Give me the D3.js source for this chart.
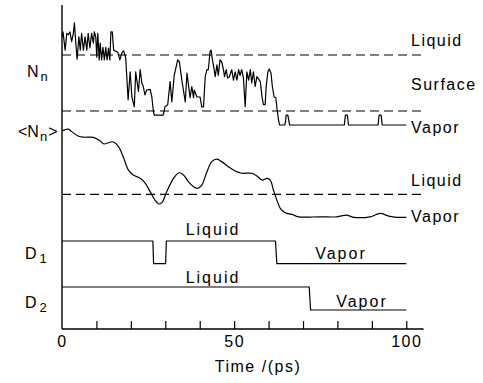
<!DOCTYPE html>
<html>
<head>
<meta charset="utf-8">
<script src="https://cdn.jsdelivr.net/npm/d3@7"></script>
<style>
  html, body { margin: 0; padding: 0; background: #fff; }
  svg { display: block; }
  text { font-family: Arial, "Liberation Sans", sans-serif; fill: #000; }
</style>
</head>
<body>
<svg id="chart" width="483" height="383"></svg>
<script>
// Instantaneous neighbour count N_n along the trajectory (time in ps)
const nnTime = [0, 0.3, 0.9, 1.4, 1.8, 2.3, 2.8, 3.3, 3.6, 4.1, 4.4, 4.9, 5.3, 5.7, 6.2, 6.7, 7.2, 7.6, 8.1, 8.6,
  9.1, 9.4, 9.8, 10.1, 10.4, 10.8, 11.1, 11.5, 11.9, 12.3, 12.7, 13.1, 13.5, 13.9, 14.2, 14.6, 15.0, 16.2, 16.8, 17.4,
  17.9, 18.5, 19.2, 19.8, 20.3, 21.0, 21.4, 22.2, 22.7, 23.2, 23.6, 24.1, 24.6, 25.6, 26.1, 26.5, 26.8, 29.4, 29.9, 30.7,
  31.4, 31.9, 32.6, 33.6, 34.1, 34.8, 35.8, 36.3, 37.2, 37.7, 38.2, 38.4, 39.2, 40.1, 40.6, 41.1, 41.6, 42.1, 42.5, 43.0,
  43.3, 43.7, 44.2, 44.5, 45.0, 45.4, 45.9, 46.4, 46.9, 47.2, 47.7, 48.1, 48.6, 49.3, 49.8, 50.3, 50.8, 51.3, 51.7, 52.2,
  52.7, 53.2, 53.7, 54.2, 54.7, 55.1, 55.6, 56.1, 56.6, 57.6, 58.1, 58.5, 59.0, 59.3, 59.8, 60.2, 60.7, 61.1, 61.6, 62.1,
  62.5, 62.9, 63.2, 64.7, 64.9, 65.1, 65.6, 65.9, 66.1, 82.0, 82.3, 82.9, 83.2, 91.8, 92.1, 92.7, 93.0, 100];
const nnValue = [12.6, 13.3, 10.7, 13.1, 12.9, 13.3, 11.9, 13.1, 14.6, 11.1, 9.4, 12.6, 10.7, 13.1, 10.7, 12.6, 10.7, 13.1, 11.0, 13.1,
  11.7, 13.3, 12.6, 9.7, 13.1, 9.3, 11.7, 9.3, 11.1, 9.3, 11.1, 9.3, 11.0, 9.3, 13.3, 13.3, 10.7, 10.4, 9.3, 10.3,
  10.6, 9.6, 3.6, 7.6, 4.0, 2.6, 7.6, 4.8, 7.9, 6.0, 5.5, 4.3, 5.0, 5.1, 4.0, 2.1, 1.4, 1.4, 2.6, 2.9,
  6.2, 3.3, 7.1, 9.3, 9.0, 6.4, 3.3, 7.4, 3.9, 5.5, 3.9, 5.0, 4.0, 4.0, 2.6, 2.6, 6.9, 7.9, 7.9, 10.5,
  10.7, 9.3, 7.9, 6.9, 8.6, 7.1, 9.3, 9.0, 7.9, 6.9, 7.9, 6.7, 6.9, 7.9, 6.4, 7.6, 6.4, 7.9, 7.1, 7.9,
  6.7, 2.6, 7.6, 6.4, 7.9, 6.0, 7.6, 5.5, 6.9, 6.2, 4.0, 2.9, 2.9, 5.5, 7.6, 8.0, 7.4, 5.5, 4.0, 3.9,
  2.1, 0.7, 0, 0, 0.4, 1.4, 1.4, 0.6, 0, 0, 1.4, 1.4, 0, 0, 1.4, 1.4, 0, 0];

// Running average <N_n>
const avgTime = [0, 1.8, 2.8, 4.7, 6.2, 9.1, 11.0, 12.2, 13.5, 14.7, 16.4, 17.8, 19.3, 20.7, 22.7, 24.1, 25.6, 27.0, 28.2, 29.2,
  30.4, 32.4, 34.0, 35.3, 36.7, 38.2, 39.4, 40.6, 42.1, 43.5, 45.0, 46.4, 48.3, 50.3, 52.2, 55.1, 56.6, 58.1, 59.5, 60.5,
  61.4, 62.4, 63.4, 64.8, 66.8, 68.7, 75.0, 79.9, 82.6, 84.7, 89.5, 92.4, 94.9, 97.3, 100];
const avgValue = [36.2, 36.9, 35.9, 34.1, 33.6, 33.5, 32.1, 30.8, 31.3, 31.7, 29.7, 25.4, 20.0, 18.0, 16.6, 14.7, 11.1, 7.6, 6.0, 6.9,
  11.1, 16.6, 18.9, 18.0, 15.2, 13.1, 12.5, 13.8, 19.3, 23.5, 24.5, 23.5, 21.4, 19.6, 18.7, 18.7, 17.6, 15.9, 16.6, 15.9,
  11.8, 7.6, 4.2, 2.4, 1.7, 0.7, 0.7, 0.7, 1.4, 0.5, 0.7, 2.1, 1.0, 0.5, 0.5];

// Phase indicators D1 and D2 (1 = liquid, 0 = vapor)
const d1Time = [0, 26.4, 26.6, 30.1, 30.3, 62.0, 62.4, 100];
const d1State = [1, 1, 0, 0, 1, 1, 0, 0];
const d2Time = [0, 71.8, 72.2, 100];
const d2State = [1, 1, 0, 0];

// Thresholds drawn as dashed lines
const nnThresholds = [10, 2];   // liquid, surface
const avgThresholds = [10];     // liquid

const majorTicks = [0, 50, 100];
const minorTicks = [10, 20, 30, 40, 50, 60, 70, 80, 90, 100];
const axisTitle = "Time /(ps)";

const svg = d3.select("#chart");

const x = d3.scaleLinear().domain([0, 100]).range([62, 406.3]);
const yNn = d3.scaleLinear().domain([0, 10]).range([125, 55]);
const yAvg = d3.scaleLinear().domain([0, 10]).range([218.5, 194.3]);
const yD1 = d3.scaleLinear().domain([0, 1]).range([263.7, 241]);
const yD2 = d3.scaleLinear().domain([0, 1]).range([310, 287]);

const axisY = 329;
const lineEnd = 104.5;

function trace(times, values, y, curve) {
  const pts = times.map((t, i) => [t, values[i]]);
  const gen = d3.line().x(d => x(d[0])).y(d => y(d[1]));
  if (curve) gen.curve(curve);
  svg.append("path")
    .datum(pts)
    .attr("d", gen)
    .attr("fill", "none")
    .attr("stroke", "#000")
    .attr("stroke-width", 1.2)
    .attr("stroke-linejoin", "round");
}

// dashed threshold lines
function dashed(value, y) {
  svg.append("line")
    .attr("x1", x(0)).attr("x2", x(lineEnd))
    .attr("y1", y(value)).attr("y2", y(value))
    .attr("stroke", "#000")
    .attr("stroke-width", 1.2)
    .attr("stroke-dasharray", "9,5");
}
nnThresholds.forEach(v => dashed(v, yNn));
avgThresholds.forEach(v => dashed(v, yAvg));

trace(nnTime, nnValue, yNn);
trace(avgTime, avgValue, yAvg, d3.curveCatmullRom.alpha(0.5));
trace(d1Time, d1State, yD1);
trace(d2Time, d2State, yD2);

// axes
svg.append("line")
  .attr("x1", x(0)).attr("x2", x(0))
  .attr("y1", 5).attr("y2", axisY)
  .attr("stroke", "#000").attr("stroke-width", 1.4);

const minorAxis = d3.axisBottom(x).tickValues(minorTicks).tickSizeInner(-8).tickSizeOuter(0).tickFormat("");
const gMinor = svg.append("g").attr("transform", `translate(0,${axisY})`).call(minorAxis);
gMinor.select(".domain").remove();
gMinor.selectAll(".tick line").attr("stroke-width", 1.2);

const majorAxis = d3.axisBottom(x).tickValues(majorTicks).tickSize(0).tickPadding(7).tickFormat(d3.format("d"));
const gMajor = svg.append("g").attr("transform", `translate(0,${axisY})`).call(majorAxis);
gMajor.select(".domain").remove();
gMajor.selectAll(".tick text")
  .attr("font-size", 16)
  .attr("letter-spacing", "1.5px")
  .attr("font-family", "Arial, 'Liberation Sans', sans-serif");

svg.append("line")
  .attr("x1", x(0)).attr("x2", x(105))
  .attr("y1", axisY).attr("y2", axisY)
  .attr("stroke", "#000").attr("stroke-width", 1.4);

svg.append("text")
  .attr("x", 258).attr("y", 372)
  .attr("text-anchor", "middle")
  .attr("font-size", 16)
  .attr("letter-spacing", "1.5px")
  .text(axisTitle);

// right-hand state labels
const rightLabels = [
  { text: "Liquid", y: 46 },
  { text: "Surface", y: 90 },
  { text: "Vapor", y: 133 },
  { text: "Liquid", y: 185.5 },
  { text: "Vapor", y: 221.5 }
];
svg.selectAll("text.rlab").data(rightLabels).enter().append("text")
  .attr("class", "rlab")
  .attr("x", 411).attr("y", d => d.y)
  .attr("font-size", 16)
  .attr("letter-spacing", "1.5px")
  .text(d => d.text);

// labels above the indicator traces
const stepLabels = [
  { text: "Liquid", cx: 213, y: 235 },
  { text: "Vapor", cx: 341, y: 259 },
  { text: "Liquid", cx: 213, y: 282.5 },
  { text: "Vapor", cx: 362, y: 307 }
];
svg.selectAll("text.slab").data(stepLabels).enter().append("text")
  .attr("class", "slab")
  .attr("x", d => d.cx).attr("y", d => d.y)
  .attr("text-anchor", "middle")
  .attr("font-size", 16)
  .attr("letter-spacing", "2px")
  .text(d => d.text);

// left-hand series names with subscripts
function subLabel(xp, yp, parts) {
  const t = svg.append("text").attr("x", xp).attr("y", yp).attr("font-size", 16);
  parts.forEach(p => {
    const s = t.append("tspan").text(p.text);
    if (p.size) s.attr("font-size", p.size);
    if (p.dy) s.attr("dy", p.dy);
    if (p.dx) s.attr("dx", p.dx);
  });
}
subLabel(27, 77, [{ text: "N" }, { text: "n", size: 13, dy: 4, dx: 2 }]);
subLabel(18, 137, [{ text: "<N" }, { text: "n", size: 13, dy: 4, dx: 1 }, { text: ">", dy: -4, dx: 1 }]);
subLabel(25, 259.3, [{ text: "D" }, { text: "1", size: 13, dy: 4, dx: 3 }]);
subLabel(25, 308.3, [{ text: "D" }, { text: "2", size: 13, dy: 4, dx: 3 }]);
</script>
</body>
</html>
